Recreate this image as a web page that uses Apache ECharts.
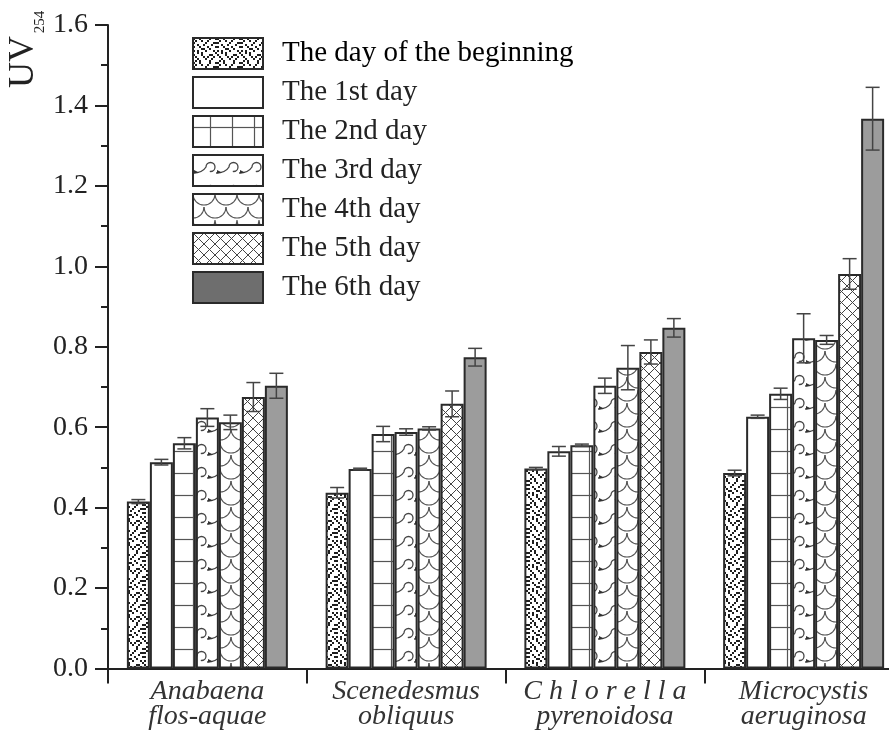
<!DOCTYPE html>
<html>
<head>
<meta charset="utf-8">
<script src="https://cdn.jsdelivr.net/npm/echarts@6/dist/echarts.min.js"></script>
<style>
html,body{margin:0;padding:0;background:#fff;overflow:hidden;width:889px;height:731px;}
#chart{width:905px;height:731px;}
</style>
</head>
<body>
<div id="chart"></div>
<script>
// ---- data ----
const categories = ['Anabaena\nflos-aquae', 'Scenedesmus\nobliquus', 'C h l o r e l l a\npyrenoidosa', 'Microcystis\naeruginosa'];
const seriesNames = ['The day of the beginning', 'The 1st day', 'The 2nd day', 'The 3rd day', 'The 4th day', 'The 5th day', 'The 6th day'];
const day0 = [0.415, 0.437, 0.497, 0.486];
const day1 = [0.513, 0.496, 0.540, 0.626];
const day2 = [0.560, 0.583, 0.555, 0.683];
const day3 = [0.624, 0.588, 0.703, 0.821];
const day4 = [0.612, 0.597, 0.748, 0.817];
const day5 = [0.675, 0.658, 0.787, 0.981];
const day6 = [0.703, 0.774, 0.847, 1.367];
const err0 = [0.005, 0.013, 0.003, 0.007];
const err1 = [0.007, 0.002, 0.012, 0.004];
const err2 = [0.014, 0.019, 0.003, 0.014];
const err3 = [0.022, 0.008, 0.019, 0.061];
const err4 = [0.018, 0.004, 0.055, 0.011];
const err5 = [0.036, 0.032, 0.030, 0.038];
const err6 = [0.031, 0.022, 0.023, 0.078];
const yTicks = [0.0, 0.2, 0.4, 0.6, 0.8, 1.0, 1.2, 1.4, 1.6];

const values = [day0, day1, day2, day3, day4, day5, day6];
const errors = [err0, err1, err2, err3, err4, err5, err6];

// ---- fill patterns ----
function makeTile(w, h, draw) {
  const c = document.createElement('canvas');
  c.width = w; c.height = h;
  const ctx = c.getContext('2d');
  ctx.fillStyle = '#fff';
  ctx.fillRect(0, 0, w, h);
  draw(ctx);
  return { image: c, repeat: 'repeat' };
}
const noiseRows = [
  "100100001001",
  "010010010000",
  "100000100011",
  "001001000100",
  "100100010001",
  "000011001000",
  "101000100010",
  "001010000001",
  "100010001100",
  "010001010010",
  "001000100100",
  "010100001000"
];
const patNoise = makeTile(24, 24, ctx => {
  ctx.fillStyle = '#1e1e1e';
  noiseRows.forEach((r, y) => {
    for (let x = 0; x < r.length; x++) if (r[x] === '1') ctx.fillRect(x * 2, y * 2, 2, 2);
  });
});
const patWhite = '#ffffff';
const patGrid = makeTile(22, 22, ctx => {
  ctx.strokeStyle = '#555'; ctx.lineWidth = 1.2;
  ctx.beginPath(); ctx.moveTo(17.5, 0); ctx.lineTo(17.5, 22); ctx.stroke();
  ctx.beginPath(); ctx.moveTo(0, 11.5); ctx.lineTo(22, 11.5); ctx.stroke();
});
const patWave = makeTile(23, 23, ctx => {
  ctx.strokeStyle = '#444'; ctx.lineWidth = 1.3;
  ctx.beginPath();
  ctx.moveTo(0, 18);
  ctx.bezierCurveTo(6, 18, 10, 17, 13, 12);
  ctx.arc(17.5, 12, 4.5, Math.PI, Math.PI * 0.55, false);
  ctx.stroke();
  ctx.fillStyle = '#333';
  ctx.beginPath(); ctx.moveTo(1, 15); ctx.lineTo(6, 17.5); ctx.lineTo(1, 18.5); ctx.closePath(); ctx.fill();
});
const patScale = makeTile(22, 26, ctx => {
  ctx.strokeStyle = '#555'; ctx.lineWidth = 1.1;
  ctx.beginPath(); ctx.arc(11, 0, 11, 0, Math.PI); ctx.stroke();
  ctx.beginPath(); ctx.arc(0, 13, 11, 0, Math.PI); ctx.stroke();
  ctx.beginPath(); ctx.arc(22, 13, 11, 0, Math.PI); ctx.stroke();
});
const patCross = makeTile(11, 11, ctx => {
  ctx.strokeStyle = '#444'; ctx.lineWidth = 1;
  ctx.beginPath(); ctx.moveTo(-1, -1); ctx.lineTo(12, 12); ctx.stroke();
  ctx.beginPath(); ctx.moveTo(12, -1); ctx.lineTo(-1, 12); ctx.stroke();
});
const fills = [patNoise, patWhite, patGrid, patWave, patScale, patCross, '#9c9c9c'];

const SERIF = 'Liberation Serif';
const CAT_GAP = 0.19;

const barSeries = seriesNames.map((n, i) => ({
  name: n,
  type: 'bar',
  data: values[i],
  barGap: '0%',
  barCategoryGap: (CAT_GAP * 100) + '%',
  itemStyle: { color: fills[i], borderColor: '#2a2a2a', borderWidth: 2 },
  emphasis: { disabled: true },
  z: 2
}));

const errData = [];
errors.forEach((arr, s) => arr.forEach((e, c) => {
  errData.push([c, s, values[s][c] - e, values[s][c] + e]);
}));

const errSeries = {
  type: 'custom',
  name: 'err',
  data: errData,
  encode: { x: 0, y: [2, 3] },
  z: 5,
  silent: true,
  renderItem: function (params, api) {
    const c = api.value(0), s = api.value(1);
    const band = api.size([1, 0])[0];
    const barW = band * (1 - CAT_GAP) / 7;
    const cx = api.coord([c, 0])[0] + (s - 3) * barW;
    const yl = api.coord([c, api.value(2)])[1];
    const yh = api.coord([c, api.value(3)])[1];
    const hw = 7;
    const st = { stroke: '#444', lineWidth: 1.5 };
    return {
      type: 'group',
      children: [
        { type: 'line', shape: { x1: cx, y1: yl, x2: cx, y2: yh }, style: st },
        { type: 'line', shape: { x1: cx - hw, y1: yl, x2: cx + hw, y2: yl }, style: st },
        { type: 'line', shape: { x1: cx - hw, y1: yh, x2: cx + hw, y2: yh }, style: st }
      ]
    };
  }
};

const chart = echarts.init(document.getElementById('chart'), null, { renderer: 'canvas' });
chart.setOption({
  animation: false,
  backgroundColor: '#ffffff',
  grid: { left: 108, top: 25, width: 795, height: 648, containLabel: false },
  legend: {
    orient: 'vertical',
    left: 192, top: 37,
    padding: 0,
    icon: 'rect',
    itemWidth: 70, itemHeight: 31, itemGap: 6,
    selectedMode: false,
    textStyle: { fontFamily: SERIF, fontSize: 29, lineHeight: 31, color: '#222', padding: [0, 0, 0, 14] },
    data: seriesNames.map((n, i) => i === 6 ? { name: n, itemStyle: { color: '#6e6e6e' } }
      : (i === 0 ? { name: n, textStyle: { color: '#000' } } : { name: n }))
  },
  xAxis: {
    type: 'category',
    data: categories,
    axisLine: { lineStyle: { color: '#222', width: 2 } },
    axisTick: { show: true, length: 15, lineStyle: { color: '#222', width: 2 }, interval: 0 },
    axisLabel: {
      interval: 0, margin: 11,
      fontFamily: SERIF, fontStyle: 'italic', fontSize: 28, lineHeight: 25, color: '#333'
    },
    splitLine: { show: false }
  },
  yAxis: {
    type: 'value',
    min: yTicks[0], max: yTicks[yTicks.length - 1], interval: 0.2,
    axisLine: { show: true, lineStyle: { color: '#222', width: 2 } },
    axisTick: { show: true, length: 13, lineStyle: { color: '#222', width: 2 } },
    minorTick: { show: true, splitNumber: 2, length: 7, lineStyle: { color: '#222', width: 2 } },
    axisLabel: {
      margin: 20, fontFamily: SERIF, fontSize: 28, color: '#222',
      formatter: v => v.toFixed(1)
    },
    splitLine: { show: false },
    minorSplitLine: { show: false }
  },
  graphic: [
    { type: 'text', x: 24, y: 62, rotation: Math.PI / 2,
      style: { text: 'UV', font: '36px "Liberation Serif"', fill: '#222', align: 'center', verticalAlign: 'middle' } },
    { type: 'text', x: 40, y: 22, rotation: Math.PI / 2,
      style: { text: '254', font: '15px "Liberation Serif"', fill: '#222', align: 'center', verticalAlign: 'middle' } }
  ],
  series: barSeries.concat([errSeries])
});
</script>
</body>
</html>
